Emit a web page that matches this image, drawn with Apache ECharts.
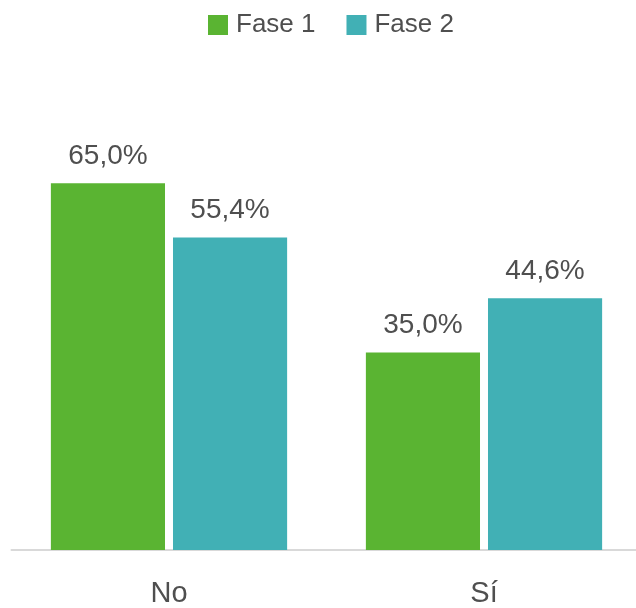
<!DOCTYPE html>
<html>
<head>
<meta charset="utf-8">
<script src="https://cdn.jsdelivr.net/npm/echarts@6/dist/echarts.min.js"></script>
<style>
  html, body { margin: 0; padding: 0; background: #ffffff; overflow: hidden; }
  #chart { width: 650px; height: 608px; }
</style>
</head>
<body>
<div id="chart"></div>
<script>
// Categories and series values (percent)
const categories = ['No', 'Sí'];
const seriesNames = ['Fase 1', 'Fase 2'];
const fase1 = [65.0, 35.0];
const fase2 = [55.4, 44.6];

const FONT = '"Liberation Sans", Arial, sans-serif';
const TEXT = '#4f4f4f';

const fmt = v => v.toFixed(1).replace('.', ',') + '%';

const valueLabel = {
  show: true, position: 'top', distance: 13,
  fontFamily: FONT, fontSize: 28, color: TEXT,
  formatter: p => fmt(p.value)
};

const chart = echarts.init(document.getElementById('chart'));
chart.setOption({
  animation: false,
  legend: {
    top: 12,
    left: 208,
    padding: 0,
    itemWidth: 20,
    itemHeight: 20,
    itemGap: 31,
    icon: 'rect',
    textStyle: { fontFamily: FONT, fontSize: 26, color: TEXT, padding: [0, 0, 0, 3] },
    data: seriesNames
  },
  // the plot runs slightly past the right edge of the page
  grid: { left: 11.5, right: 8.5, top: 155, bottom: 58, containLabel: false, outerBoundsMode: 'none' },
  xAxis: {
    type: 'category',
    data: categories,
    axisLine: { lineStyle: { color: '#d9d9d9', width: 2 } },
    axisTick: { show: false },
    axisLabel: { fontFamily: FONT, fontSize: 29, color: TEXT, margin: 29 }
  },
  yAxis: {
    type: 'value',
    min: 0,
    max: 70,
    show: false,
    splitLine: { show: false }
  },
  series: [
    {
      name: seriesNames[0],
      type: 'bar',
      data: fase1,
      barGap: '7%',
      barCategoryGap: '25%',
      itemStyle: { color: '#5ab432' },
      label: valueLabel
    },
    {
      name: seriesNames[1],
      type: 'bar',
      data: fase2,
      itemStyle: { color: '#41b0b5' },
      label: valueLabel
    }
  ]
});
</script>
</body>
</html>
